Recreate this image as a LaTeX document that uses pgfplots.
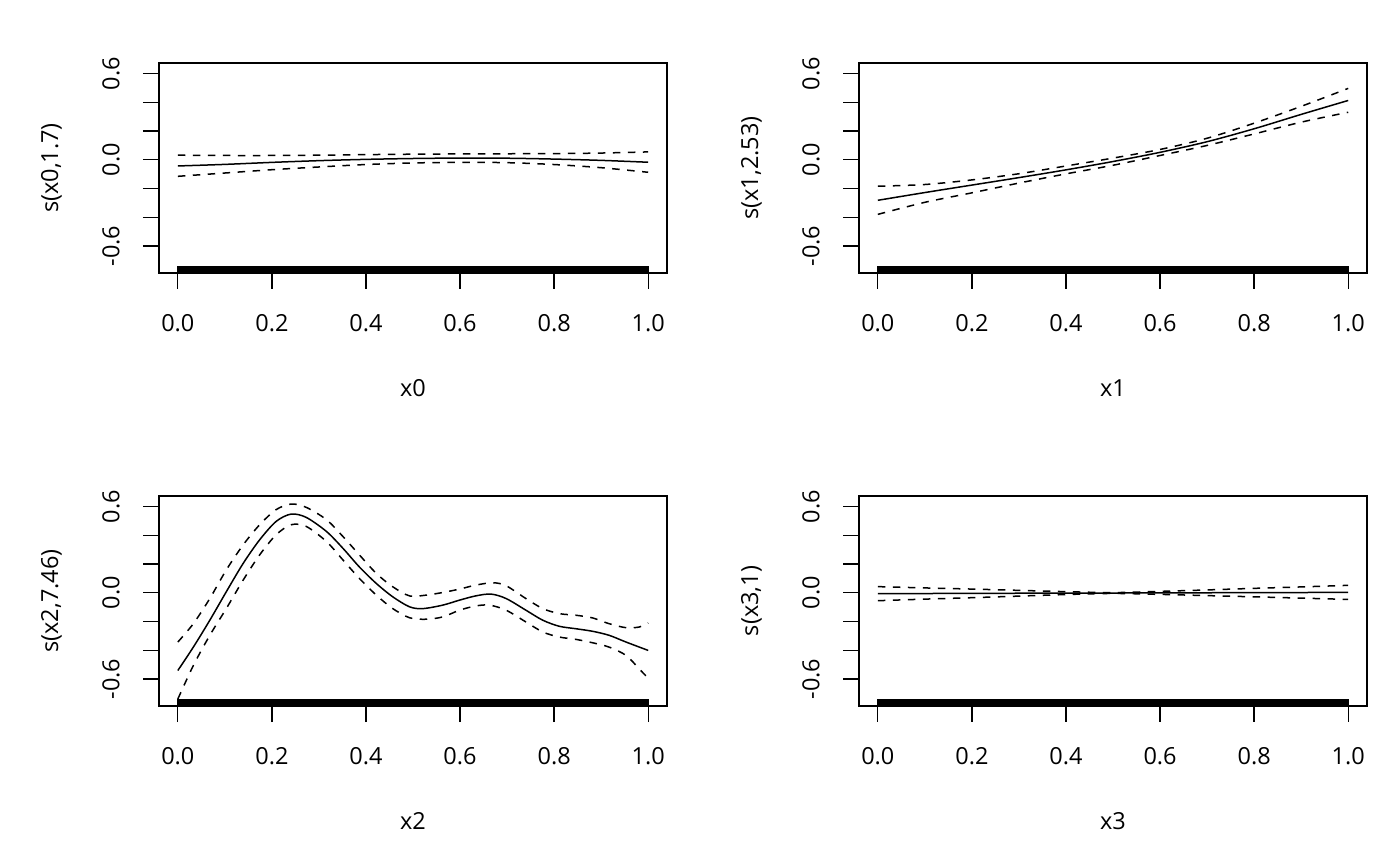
\documentclass[border=0pt]{standalone}
\usepackage{fontspec}
\setmainfont{Open Sans}
\usepackage{pgfplots}
\pgfplotsset{compat=1.18}
\usepackage{pgfplotstable}

\pgfplotstableread[row sep=\\]{
x y\\
0.003 -0.788\\0.011 -0.788\\0.018 -0.788\\0.026 -0.788\\0.033 -0.788\\0.041 -0.788\\0.049 -0.788\\0.056 -0.788\\0.064 -0.788\\0.071 -0.788\\
0.079 -0.788\\0.087 -0.788\\0.094 -0.788\\0.102 -0.788\\0.110 -0.788\\0.117 -0.788\\0.124 -0.788\\0.132 -0.788\\0.140 -0.788\\0.147 -0.788\\
0.155 -0.788\\0.162 -0.788\\0.170 -0.788\\0.178 -0.788\\0.185 -0.788\\0.193 -0.788\\0.200 -0.788\\0.208 -0.788\\0.216 -0.788\\0.223 -0.788\\
0.231 -0.788\\0.238 -0.788\\0.246 -0.788\\0.254 -0.788\\0.261 -0.788\\0.269 -0.788\\0.276 -0.788\\0.284 -0.788\\0.291 -0.788\\0.299 -0.788\\
0.307 -0.788\\0.314 -0.788\\0.322 -0.788\\0.329 -0.788\\0.337 -0.788\\0.345 -0.788\\0.352 -0.788\\0.360 -0.788\\0.367 -0.788\\0.375 -0.788\\
0.383 -0.788\\0.390 -0.788\\0.398 -0.788\\0.405 -0.788\\0.413 -0.788\\0.421 -0.788\\0.428 -0.788\\0.436 -0.788\\0.443 -0.788\\0.451 -0.788\\
0.459 -0.788\\0.466 -0.788\\0.474 -0.788\\0.481 -0.788\\0.489 -0.788\\0.496 -0.788\\0.504 -0.788\\0.512 -0.788\\0.519 -0.788\\0.527 -0.788\\
0.534 -0.788\\0.542 -0.788\\0.550 -0.788\\0.557 -0.788\\0.565 -0.788\\0.572 -0.788\\0.580 -0.788\\0.588 -0.788\\0.595 -0.788\\0.603 -0.788\\
0.610 -0.788\\0.618 -0.788\\0.625 -0.788\\0.633 -0.788\\0.641 -0.788\\0.648 -0.788\\0.656 -0.788\\0.663 -0.788\\0.671 -0.788\\0.679 -0.788\\
0.686 -0.788\\0.694 -0.788\\0.701 -0.788\\0.709 -0.788\\0.717 -0.788\\0.724 -0.788\\0.732 -0.788\\0.739 -0.788\\0.747 -0.788\\0.754 -0.788\\
0.762 -0.788\\0.770 -0.788\\0.777 -0.788\\0.785 -0.788\\0.792 -0.788\\0.800 -0.788\\0.808 -0.788\\0.815 -0.788\\0.823 -0.788\\0.830 -0.788\\
0.838 -0.788\\0.846 -0.788\\0.853 -0.788\\0.861 -0.788\\0.868 -0.788\\0.876 -0.788\\0.883 -0.788\\0.891 -0.788\\0.899 -0.788\\0.906 -0.788\\
0.914 -0.788\\0.921 -0.788\\0.929 -0.788\\0.937 -0.788\\0.944 -0.788\\0.952 -0.788\\0.959 -0.788\\0.967 -0.788\\0.975 -0.788\\0.982 -0.788\\
0.990 -0.788\\0.997 -0.788\\
}\rug

\newcommand\myfont{\fontsize{23.5bp}{28bp}\selectfont}

\pgfplotsset{
 gam/.style={
  scale only axis, width=508bp, height=210bp,
  xmin=-0.04, xmax=1.04, ymin=-0.788, ymax=0.674,
  axis line style={line width=1.3bp},
  tick align=outside, major tick length=16bp,
  tick style={black, line width=1.3bp},
  xtick pos=bottom, ytick pos=left,
  xtick={0,0.2,0.4,0.6,0.8,1},
  xticklabels={0.0,0.2,0.4,0.6,0.8,1.0},
  ytick={-0.6,-0.4,-0.2,0,0.2,0.4,0.6},
  yticklabels={-0.6,,,0.0,,,0.6},
  tick label style={font=\myfont},
  xticklabel style={anchor=north, inner sep=0pt, yshift=-25bp},
  yticklabel style={xshift=-23bp, rotate=90, anchor=south, inner sep=0pt},
  every axis x label/.style={at={(axis description cs:0.5,0)}, anchor=center, yshift=-115bp, font=\myfont},
  every axis y label/.style={at={(axis description cs:0,0.5)}, xshift=-107.5bp, rotate=90, anchor=center, font=\myfont},
  clip marker paths=true,
 },
 fit/.style={black, line width=1.5bp, smooth, tension=0.5, no marks},
 band/.style={black, line width=1.5bp, smooth, tension=0.5, no marks, dash pattern=on 7.5bp off 7.5bp},
 rug/.style={black, only marks, mark=|, mark size=6.8bp, mark options={line width=3.9bp}},
}

\begin{document}
\begin{tikzpicture}[x=1bp,y=1bp]
\path[use as bounding box] (0,0) rectangle (1400,866);

% panel 1
\begin{axis}[gam, at={(159bp,593bp)}, anchor=south west, xlabel={x0}, ylabel={s(x0,1.7)}]
\addplot[rug] table[x=x, y=y]{\rug};
\addplot[fit] coordinates {(0,-0.043) (0.1,-0.032) (0.2,-0.018) (0.3,-0.006) (0.4,0.003) (0.5,0.009) (0.6,0.012) (0.7,0.011) (0.8,0.005) (0.9,-0.004) (1.0,-0.017)};
\addplot[band] coordinates {(0,0.032) (0.1,0.030) (0.2,0.030) (0.3,0.032) (0.4,0.036) (0.5,0.039) (0.6,0.041) (0.7,0.042) (0.8,0.043) (0.9,0.047) (1.0,0.055)};
\addplot[band] coordinates {(0,-0.115) (0.1,-0.092) (0.2,-0.069) (0.3,-0.050) (0.4,-0.033) (0.5,-0.022) (0.6,-0.018) (0.7,-0.020) (0.8,-0.033) (0.9,-0.055) (1.0,-0.087)};
\end{axis}

% panel 2
\begin{axis}[gam, at={(859bp,593bp)}, anchor=south west, xlabel={x1}, ylabel={s(x1,2.53)}]
\addplot[rug] table[x=x, y=y]{\rug};
\addplot[fit] coordinates {(0,-0.282) (0.1,-0.228) (0.2,-0.176) (0.3,-0.124) (0.4,-0.070) (0.5,-0.012) (0.6,0.052) (0.7,0.126) (0.8,0.216) (0.9,0.316) (1.0,0.413)};
\addplot[band] coordinates {(0,-0.184) (0.1,-0.172) (0.2,-0.140) (0.3,-0.097) (0.4,-0.043) (0.5,0.012) (0.6,0.072) (0.7,0.150) (0.8,0.255) (0.9,0.372) (1.0,0.497)};
\addplot[band] coordinates {(0,-0.380) (0.1,-0.296) (0.2,-0.230) (0.3,-0.162) (0.4,-0.098) (0.5,-0.038) (0.6,0.030) (0.7,0.100) (0.8,0.180) (0.9,0.262) (1.0,0.331)};
\end{axis}

% panel 3
\begin{axis}[gam, at={(159bp,160bp)}, anchor=south west, xlabel={x2}, ylabel={s(x2,7.46)}]
\addplot[rug] table[x=x, y=y]{\rug};
\addplot[fit] coordinates {(0,-0.541) (0.033,-0.378) (0.068,-0.191) (0.103,0.007) (0.139,0.205) (0.174,0.369) (0.209,0.497) (0.241,0.548) (0.273,0.525) (0.316,0.427) (0.351,0.31) (0.386,0.18) (0.422,0.065) (0.457,-0.028) (0.493,-0.098) (0.521,-0.11) (0.563,-0.086) (0.599,-0.051) (0.634,-0.021) (0.666,-0.009) (0.698,-0.04) (0.74,-0.121) (0.776,-0.191) (0.811,-0.233) (0.846,-0.25) (0.882,-0.268) (0.917,-0.296) (0.953,-0.343) (1.0,-0.401)};
\addplot[band] coordinates {(0,-0.343) (0.033,-0.215) (0.068,-0.04) (0.103,0.159) (0.139,0.334) (0.174,0.474) (0.209,0.579) (0.241,0.618) (0.273,0.595) (0.316,0.509) (0.351,0.392) (0.386,0.264) (0.422,0.135) (0.457,0.042) (0.493,-0.022) (0.528,-0.016) (0.563,0.002) (0.599,0.026) (0.634,0.054) (0.67,0.07) (0.698,0.049) (0.74,-0.04) (0.776,-0.11) (0.811,-0.145) (0.846,-0.156) (0.882,-0.175) (0.917,-0.215) (0.953,-0.243) (0.981,-0.238) (1.0,-0.21)};
\addplot[band] coordinates {(0,-0.74) (0.033,-0.506) (0.068,-0.296) (0.103,-0.11) (0.139,0.089) (0.174,0.264) (0.209,0.404) (0.241,0.474) (0.273,0.462) (0.316,0.357) (0.351,0.229) (0.386,0.10) (0.422,-0.016) (0.457,-0.11) (0.493,-0.174) (0.528,-0.184) (0.563,-0.168) (0.599,-0.121) (0.634,-0.091) (0.663,-0.086) (0.698,-0.121) (0.74,-0.203) (0.776,-0.273) (0.811,-0.308) (0.846,-0.324) (0.882,-0.348) (0.917,-0.378) (0.953,-0.436) (0.981,-0.53) (1.0,-0.595)};
\end{axis}

% panel 4
\begin{axis}[gam, at={(859bp,160bp)}, anchor=south west, xlabel={x3}, ylabel={s(x3,1)}]
\addplot[rug] table[x=x, y=y]{\rug};
\addplot[fit] coordinates {(0,-0.006) (0.1,-0.005) (0.2,-0.004) (0.3,-0.003) (0.4,-0.002) (0.5,-0.0015) (0.6,-0.0006) (0.7,0.0003) (0.8,0.0012) (0.9,0.002) (1.0,0.003)};
\addplot[band] coordinates {(0,0.043) (0.1,0.034) (0.2,0.026) (0.3,0.017) (0.4,0.008) (0.5,0.0015) (0.6,0.010) (0.7,0.020) (0.8,0.031) (0.9,0.041) (1.0,0.052)};
\addplot[band] coordinates {(0,-0.055) (0.1,-0.044) (0.2,-0.034) (0.3,-0.023) (0.4,-0.012) (0.5,-0.0045) (0.6,-0.011) (0.7,-0.0195) (0.8,-0.028) (0.9,-0.037) (1.0,-0.046)};
\end{axis}
\end{tikzpicture}
\end{document}
